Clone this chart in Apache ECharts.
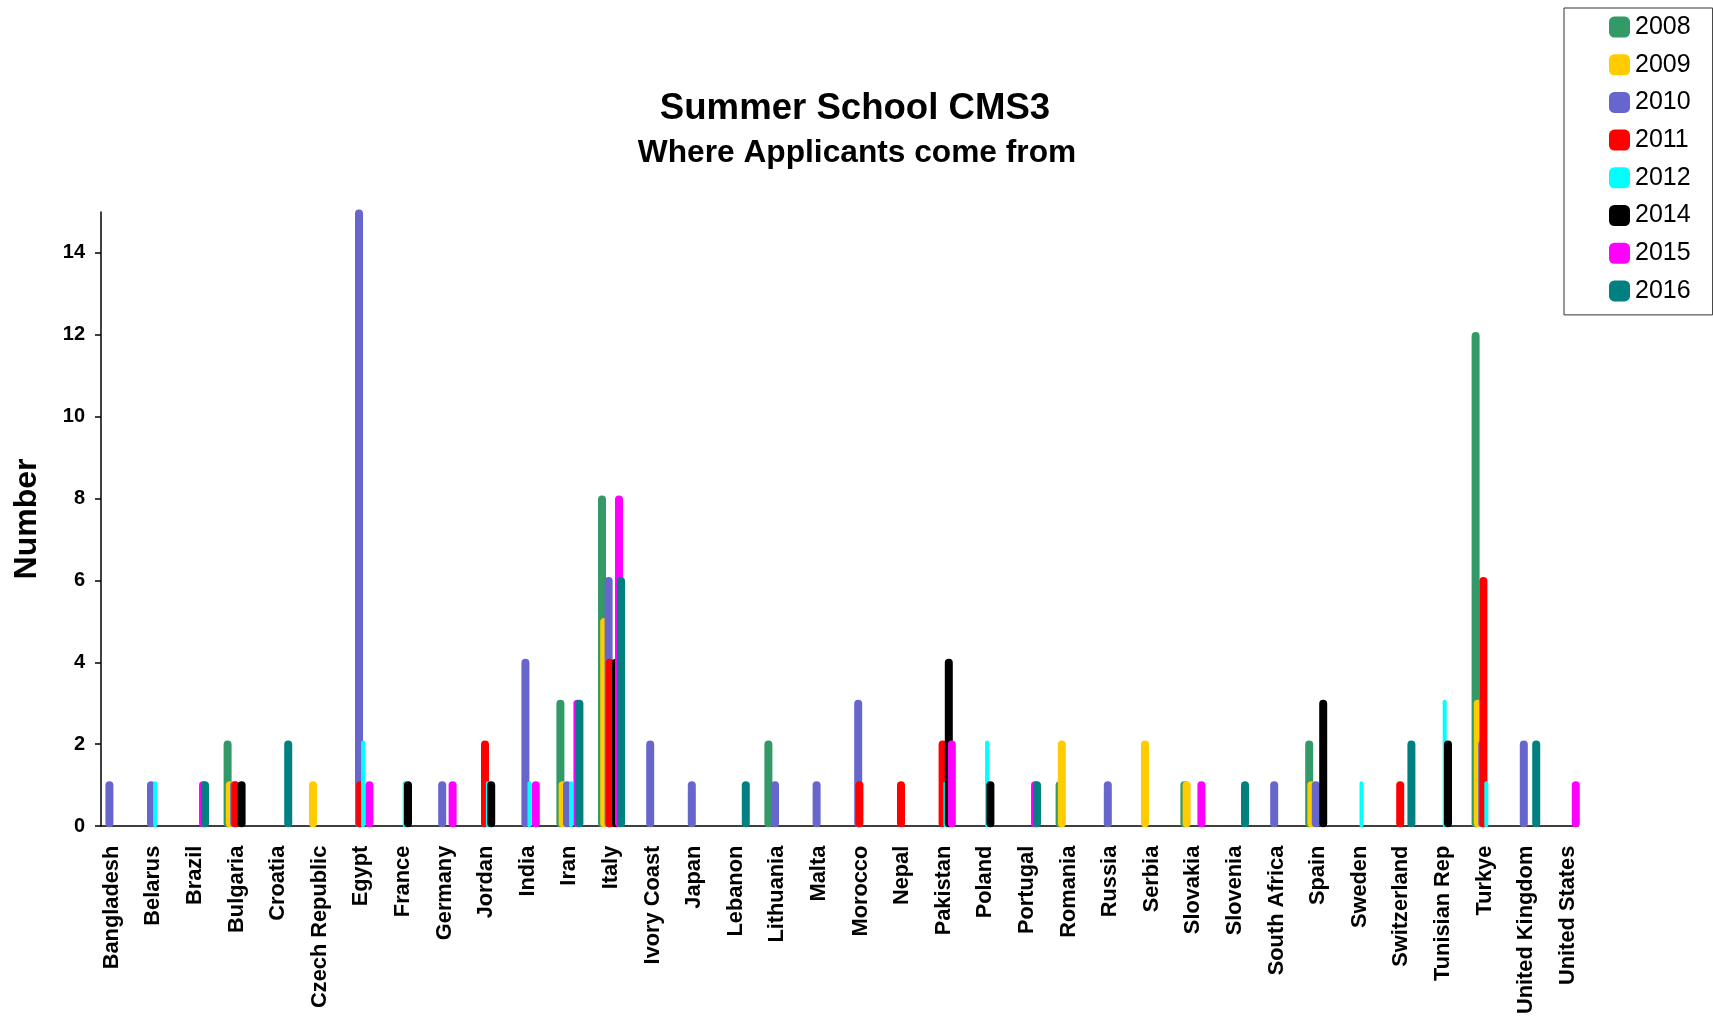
<!DOCTYPE html>
<html><head><meta charset="utf-8">
<script src="https://cdn.jsdelivr.net/npm/echarts@6/dist/echarts.min.js"></script>
<style>html,body{margin:0;padding:0;background:#fff}#c{width:1713px;height:1017px}</style>
</head><body><div id="c"></div>
<script>
// ---------- DATA ----------
const countries = ['Bangladesh','Belarus','Brazil','Bulgaria','Croatia','Czech Republic','Egypt','France','Germany','Jordan','India','Iran','Italy','Ivory Coast','Japan','Lebanon','Lithuania','Malta','Morocco','Nepal','Pakistan','Poland','Portugal','Romania','Russia','Serbia','Slovakia','Slovenia','South Africa','Spain','Sweden','Switzerland','Tunisian Rep','Turkye','United Kingdom','United States'];
const years = ['2008','2009','2010','2011','2012','2014','2015','2016'];
const v2008 = [0,0,0,2,0,0, 0,0,0,0,0,3, 8,0,0,0,2,0, 0,0,0,0,0,1, 0,0,1,0,0,2, 0,0,0,12,0,0];
const v2009 = [0,0,0,1,0,1, 0,0,0,0,0,1, 5,0,0,0,0,0, 0,0,0,0,0,2, 0,2,1,0,0,1, 0,0,0,3,0,0];
const v2010 = [1,1,0,1,0,0, 15,0,1,0,4,1, 6,2,1,0,1,1, 3,0,0,0,0,0, 1,0,0,0,1,1, 0,0,0,2,2,0];
const v2011 = [0,0,0,1,0,0, 1,0,0,2,0,0, 4,0,0,0,0,0, 1,1,2,0,0,0, 0,0,0,0,0,0, 0,1,0,6,0,0];
const v2012 = [0,1,0,0,0,0, 2,1,0,1,1,1, 0,0,0,0,0,0, 0,0,1,2,0,0, 0,0,0,0,0,0, 1,0,3,1,0,0];
const v2014 = [0,0,0,1,0,0, 0,1,0,1,0,0, 4,0,0,0,0,0, 0,0,4,1,0,0, 0,0,0,0,0,3, 0,0,2,0,0,0];
const v2015 = [0,0,1,0,0,0, 1,0,1,0,1,3, 8,0,0,0,0,0, 0,0,2,0,1,0, 0,0,1,0,0,0, 0,0,0,0,0,1];
const v2016 = [0,0,1,0,2,0, 0,0,0,0,0,3, 6,0,0,1,0,0, 0,0,0,0,1,0, 0,0,0,1,0,0, 0,2,0,0,2,0];
const yTicks = [0,2,4,6,8,10,12,14];

// ---------- STYLE ----------
const seriesValues = [v2008,v2009,v2010,v2011,v2012,v2014,v2015,v2016];
const colors = ['#339966','#FFCC00','#6666CC','#FF0000','#00FFFF','#000000','#FF00FF','#008080'];
const offsets = [-9,-6.8,-2.4,-1.2,1.7,5,8,10];
const widths = [8,8,8,8,4,8,8,8];
const FONT = '"Liberation Sans", Arial, sans-serif';

const series = years.map(function (y, k) {
  const data = [];
  seriesValues[k].forEach(function (v, i) { if (v > 0) data.push([i, v]); });
  return {
    name: y,
    type: 'custom',
    xAxisIndex: 0, yAxisIndex: 0,
    itemStyle: { color: colors[k] },
    data: data,
    encode: { x: 0, y: 1 },
    z: 2 + k,
    renderItem: function (params, api) {
      const cat = api.value(0), v = api.value(1);
      const base = api.coord([cat, 0]);
      const top = api.coord([cat, v]);
      const w = widths[k];
      const ext = 2.5;
      return {
        type: 'rect',
        shape: { x: base[0] + offsets[k] - w / 2, y: top[1] - ext, width: w, height: base[1] - top[1] + 2 * ext, r: w / 2 },
        style: { fill: api.visual('color') }
      };
    }
  };
});

const chart = echarts.init(document.getElementById('c'), null, { renderer: 'canvas' });
chart.setOption({
  backgroundColor: '#ffffff',
  animation: false,
  title: [
    { text: 'Summer School CMS3', left: 855, top: 109, padding: 0, textAlign: 'center', textVerticalAlign: 'middle',
      textStyle: { fontFamily: FONT, fontSize: 36.6, fontWeight: 'bold', color: '#000' } },
    { text: 'Where Applicants come from', left: 857, top: 153, padding: 0, textAlign: 'center', textVerticalAlign: 'middle',
      textStyle: { fontFamily: FONT, fontSize: 31.7, fontWeight: 'bold', color: '#000' } }
  ],
  legend: {
    data: years,
    orient: 'vertical',
    left: 1564, top: 8,
    padding: [6, 22, 11, 45],
    itemGap: 11.7,
    itemWidth: 21, itemHeight: 21,
    icon: 'roundRect',
    borderColor: '#333', borderWidth: 1,
    selectedMode: false,
    textStyle: { fontFamily: FONT, fontSize: 25, color: '#000', lineHeight: 26 }
  },
  grid: [
    { left: 91, right: 124.4, top: 212, bottom: 191, containLabel: false },
    { left: 101, right: 135, top: 212, bottom: 191, containLabel: false }
  ],
  xAxis: [
    { type: 'category', gridIndex: 0, data: countries, boundaryGap: true,
      axisLine: { show: false }, axisTick: { show: false }, splitLine: { show: false },
      axisLabel: { interval: 0, rotate: 90, margin: 21, fontFamily: FONT, fontSize: 21.8, fontWeight: 'bold', color: '#000' } },
    { type: 'category', gridIndex: 1, data: [''],
      axisLine: { show: true, lineStyle: { color: '#000', width: 1.5 } },
      axisTick: { show: false }, axisLabel: { show: false }, splitLine: { show: false } }
  ],
  yAxis: [
    { type: 'value', gridIndex: 0, min: 0, max: 15, show: false, splitLine: { show: false } },
    { type: 'value', gridIndex: 1, min: 0, max: 15,
      name: 'Number', nameLocation: 'middle', nameGap: 58, nameRotate: 90,
      nameTextStyle: { fontFamily: FONT, fontSize: 32, fontWeight: 'bold', color: '#000' },
      axisLine: { show: true, lineStyle: { color: '#000', width: 1.5 } },
      axisTick: { show: true, inside: false, length: 6, customValues: yTicks, lineStyle: { color: '#000', width: 1.5 } },
      axisLabel: { customValues: yTicks, margin: 16, fontFamily: FONT, fontSize: 20, fontWeight: 'bold', color: '#000' },
      splitLine: { show: false } }
  ],
  series: series
});
</script>
</body></html>
